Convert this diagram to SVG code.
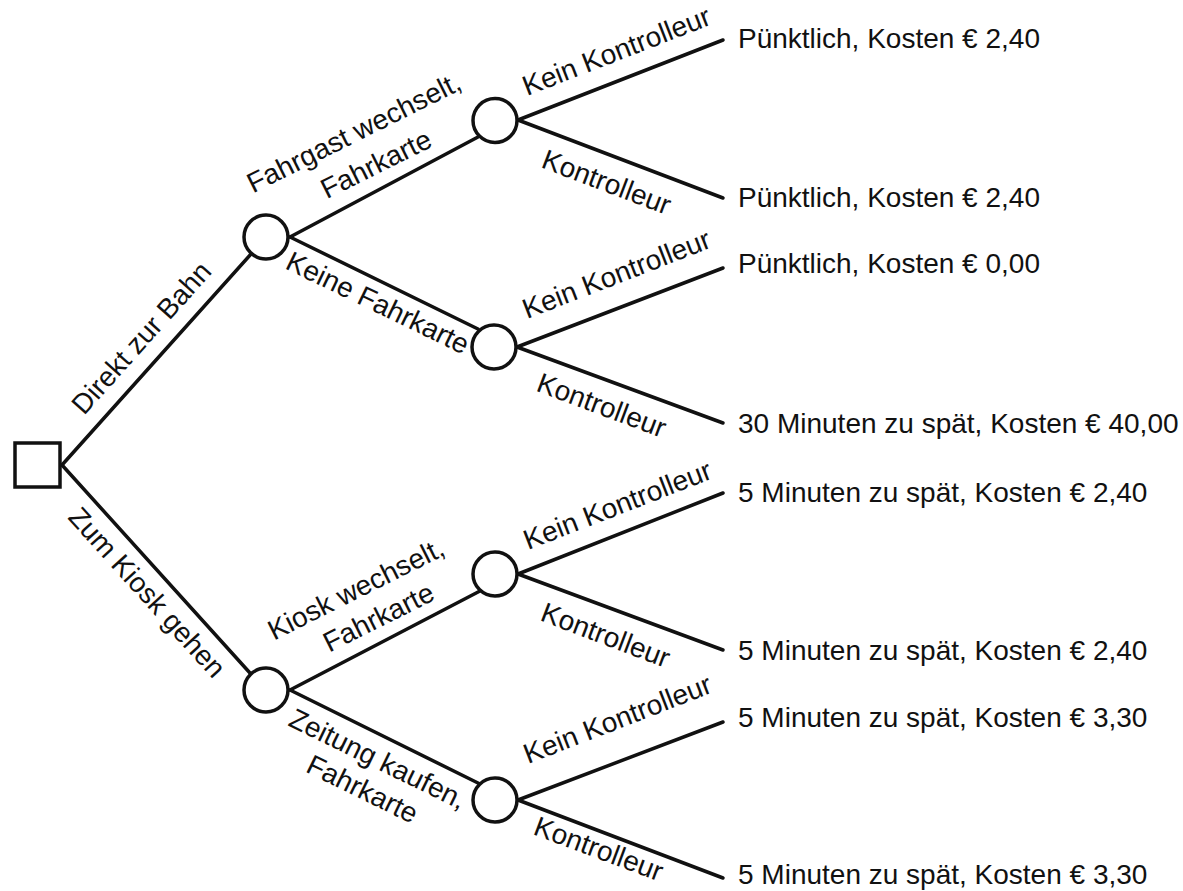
<svg xmlns="http://www.w3.org/2000/svg" width="1183" height="891" viewBox="0 0 1183 891">
  <style>
    .edge { stroke: #111; stroke-width: 3.5; fill: none; stroke-linecap: round; }
    .chance { fill: #fff; stroke: #111; stroke-width: 3.5; }
    .decision { fill: #fff; stroke: #111; stroke-width: 3.5; }
    .lbl { font-family: "Liberation Sans", Arial, sans-serif; font-size: 28px; fill: #111; }
  </style>
  <rect width="1183" height="891" fill="#fff"/>

  <g id="connectors">
    <line class="edge" x1="62" y1="465" x2="251" y2="254"/>
    <line class="edge" x1="62" y1="465" x2="250" y2="673"/>
    <line class="edge" x1="290" y1="237" x2="478" y2="137"/>
    <line class="edge" x1="290" y1="237" x2="478" y2="329"/>
    <line class="edge" x1="290" y1="690" x2="480" y2="591"/>
    <line class="edge" x1="290" y1="690" x2="480" y2="784"/>
    <line class="edge" x1="518" y1="120" x2="723" y2="40"/>
    <line class="edge" x1="518" y1="120" x2="723" y2="198"/>
    <line class="edge" x1="517" y1="347" x2="723" y2="268"/>
    <line class="edge" x1="517" y1="347" x2="723" y2="423"/>
    <line class="edge" x1="518" y1="574" x2="723" y2="493"/>
    <line class="edge" x1="518" y1="574" x2="723" y2="650"/>
    <line class="edge" x1="518" y1="800" x2="723" y2="722"/>
    <line class="edge" x1="518" y1="800" x2="723" y2="878"/>
  </g>

  <g id="edge-labels">
    <text class="lbl" transform="translate(84,416) rotate(-48.1)">Direkt zur Bahn</text>
    <text class="lbl" transform="translate(67,518) rotate(47.9)">Zum Kiosk gehen</text>
    <text class="lbl" transform="translate(253,193.5) rotate(-26.5)">Fahrgast wechselt,</text>
    <text class="lbl" transform="translate(326.7,199.3) rotate(-26.5)">Fahrkarte</text>
    <text class="lbl" transform="translate(284,268) rotate(25.8)">Keine Fahrkarte</text>
    <text class="lbl" transform="translate(274,640.7) rotate(-26.6)">Kiosk wechselt,</text>
    <text class="lbl" transform="translate(329.3,652.7) rotate(-26.6)">Fahrkarte</text>
    <text class="lbl" transform="translate(287,725) rotate(26.1)">Zeitung kaufen,</text>
    <text class="lbl" transform="translate(304.4,771.2) rotate(26.1)">Fahrkarte</text>
    <text class="lbl" transform="translate(527,96) rotate(-21.2)">Kein Kontrolleur</text>
    <text class="lbl" transform="translate(540,167) rotate(20.8)">Kontrolleur</text>
    <text class="lbl" transform="translate(527,319) rotate(-21.2)">Kein Kontrolleur</text>
    <text class="lbl" transform="translate(535,390.5) rotate(20.5)">Kontrolleur</text>
    <text class="lbl" transform="translate(528,550) rotate(-21.2)">Kein Kontrolleur</text>
    <text class="lbl" transform="translate(539,620) rotate(20.8)">Kontrolleur</text>
    <text class="lbl" transform="translate(528,764) rotate(-21.2)">Kein Kontrolleur</text>
    <text class="lbl" transform="translate(532,834) rotate(20.5)">Kontrolleur</text>
  </g>

  <g id="start">
    <rect class="decision" x="15" y="443" width="45" height="44"/>
  </g>
  <g id="node-bahn"><circle class="chance" cx="266" cy="237" r="22"/></g>
  <g id="node-kiosk"><circle class="chance" cx="266" cy="690" r="22"/></g>
  <g id="node-fahrkarte"><circle class="chance" cx="495" cy="120.5" r="22"/></g>
  <g id="node-keine"><circle class="chance" cx="494" cy="347" r="22"/></g>
  <g id="node-kiosk-fahrkarte"><circle class="chance" cx="495" cy="574" r="22"/></g>
  <g id="node-zeitung"><circle class="chance" cx="495" cy="800" r="22"/></g>

  <g id="outcome-1"><text class="lbl" x="738" y="48">Pünktlich, Kosten € 2,40</text></g>
  <g id="outcome-2"><text class="lbl" x="738" y="207">Pünktlich, Kosten € 2,40</text></g>
  <g id="outcome-3"><text class="lbl" x="738" y="273">Pünktlich, Kosten € 0,00</text></g>
  <g id="outcome-4"><text class="lbl" x="738" y="433">30 Minuten zu spät, Kosten € 40,00</text></g>
  <g id="outcome-5"><text class="lbl" x="738" y="502">5 Minuten zu spät, Kosten € 2,40</text></g>
  <g id="outcome-6"><text class="lbl" x="738" y="660">5 Minuten zu spät, Kosten € 2,40</text></g>
  <g id="outcome-7"><text class="lbl" x="738" y="727">5 Minuten zu spät, Kosten € 3,30</text></g>
  <g id="outcome-8"><text class="lbl" x="738" y="884">5 Minuten zu spät, Kosten € 3,30</text></g>
</svg>
